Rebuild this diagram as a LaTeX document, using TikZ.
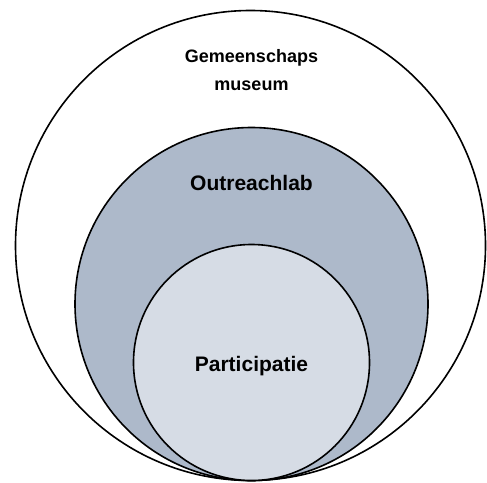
\documentclass[tikz,border=0pt]{standalone}
\usepackage{fontspec}
\setmainfont{Liberation Sans}
\usetikzlibrary{positioning}
\definecolor{labblue}{HTML}{ADB9CA}
\definecolor{partblue}{HTML}{D6DCE5}
\tikzset{
    ring/.style={
           circle,
           draw=black, line width=1.6pt,
           inner sep=0pt,
           },
    caption/.style={
           font=\bfseries,
           text=black,
           align=center,
           anchor=base,
           },
}

\begin{document}
\begin{tikzpicture}[x=1pt,y=-1pt]
  \useasboundingbox (0,0) rectangle (487,482);
  \node[ring, fill=white,    minimum size=470pt] (Museum)       at (250.5,245.5) {};
  \node[ring, fill=labblue,  minimum size=353pt] (Outreach)     at (251.5,304)   {};
  \node[ring, fill=partblue, minimum size=236pt] (Participatie) at (251.5,362.5) {};

  % labels
  \node[caption, font=\bfseries\fontsize{18}{28}\selectfont] (MuseumText)   at (251.5,90)  {Gemeenschaps\\museum};
  \node[caption, font=\bfseries\fontsize{21}{25}\selectfont] (OutreachText) at (251.5,190.5) {Outreachlab};
  \node[caption, font=\bfseries\fontsize{21}{25}\selectfont] (PartText)     at (251.5,371.5) {Participatie};
\end{tikzpicture}
\end{document}
